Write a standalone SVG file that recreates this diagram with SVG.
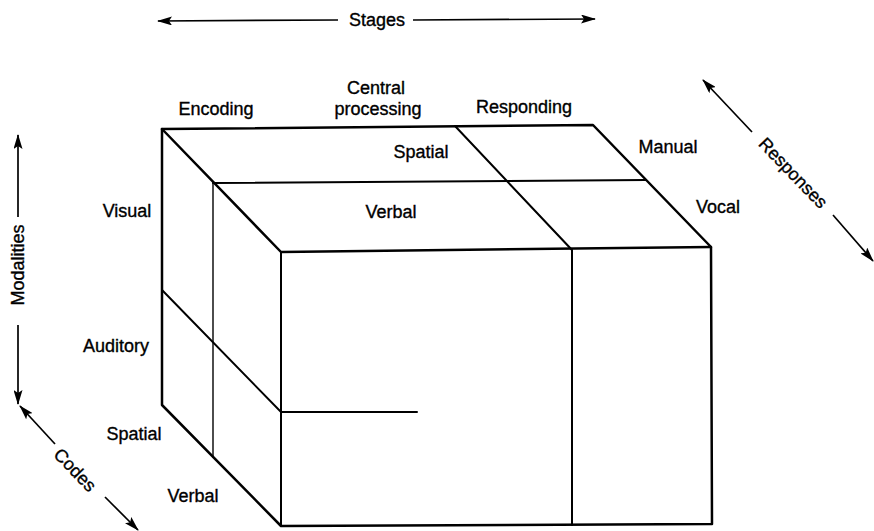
<svg xmlns="http://www.w3.org/2000/svg" width="874" height="531" viewBox="0 0 874 531">
<defs>
<style>
text{font-family:"Liberation Sans",Arial,sans-serif;font-size:18px;fill:#000;stroke:#000;stroke-width:0.35}
.m{text-anchor:middle}
.e{fill:none;stroke:#000;stroke-width:2.5;stroke-linecap:round;stroke-linejoin:round}
.d{fill:none;stroke:#000;stroke-width:2;stroke-linecap:round}
.t{fill:none;stroke:#000;stroke-width:1.4;stroke-linecap:round}
.ax{fill:none;stroke:#000;stroke-width:1.7;marker-end:url(#ah)}
</style>
<marker id="ah" viewBox="0 0 15 9" refX="14" refY="4.5" markerWidth="15" markerHeight="9" markerUnits="userSpaceOnUse" orient="auto">
<path d="M0,0 L15,4.5 L0,9 L3,4.5 Z" fill="#000"/>
</marker>
</defs>
<rect width="874" height="531" fill="#fff"/>
<g id="cube">
<path class="e" d="M162,129 L593,125 L711,247 L712,524 L281,526 L162,405 Z"/>
<path class="e" d="M162,129 L281,252 L711,247"/>
<path class="d" d="M281,252 L281,526"/>
<path class="d" d="M455,126 L572,250 L572,525"/>
<path class="d" d="M213,183 L646,180"/>
<path class="t" d="M213,183 L213,457"/>
<path class="d" d="M162,290 L281,412 L417,412"/>
</g>
<g id="connectors">
<line class="ax" x1="338" y1="20" x2="158" y2="21"/>
<line class="ax" x1="413" y1="20" x2="595" y2="19"/>
<line class="ax" x1="18" y1="217" x2="18" y2="135"/>
<line class="ax" x1="18" y1="325" x2="18" y2="404"/>
<line class="ax" x1="55" y1="444" x2="20" y2="406"/>
<line class="ax" x1="105" y1="497" x2="138" y2="530"/>
<line class="ax" x1="752" y1="132" x2="703" y2="80"/>
<line class="ax" x1="833" y1="215" x2="873" y2="261"/>
</g>
<g id="axis-stages"><text class="m" x="377" y="26">Stages</text></g>
<g id="axis-modalities"><text class="m" transform="translate(24,265) rotate(-90)">Modalities</text></g>
<g id="axis-codes"><text class="m" transform="translate(75,470) rotate(46) translate(0,6)">Codes</text></g>
<g id="axis-responses"><text class="m" transform="translate(793,173) rotate(46) translate(0,6)">Responses</text></g>
<g id="stage-encoding"><text class="m" x="216" y="115">Encoding</text></g>
<g id="stage-central"><text class="m" x="376" y="94">Central</text><text class="m" x="378" y="115">processing</text></g>
<g id="stage-responding"><text class="m" x="524" y="113">Responding</text></g>
<g id="code-spatial-top"><text class="m" x="421" y="158">Spatial</text></g>
<g id="code-verbal-top"><text class="m" x="391" y="218">Verbal</text></g>
<g id="resp-manual"><text class="m" x="668" y="153">Manual</text></g>
<g id="resp-vocal"><text class="m" x="718" y="213">Vocal</text></g>
<g id="mod-visual"><text class="m" x="127" y="217">Visual</text></g>
<g id="mod-auditory"><text class="m" x="116" y="352">Auditory</text></g>
<g id="code-spatial-left"><text class="m" x="134" y="440">Spatial</text></g>
<g id="code-verbal-left"><text class="m" x="193" y="502">Verbal</text></g>
</svg>
